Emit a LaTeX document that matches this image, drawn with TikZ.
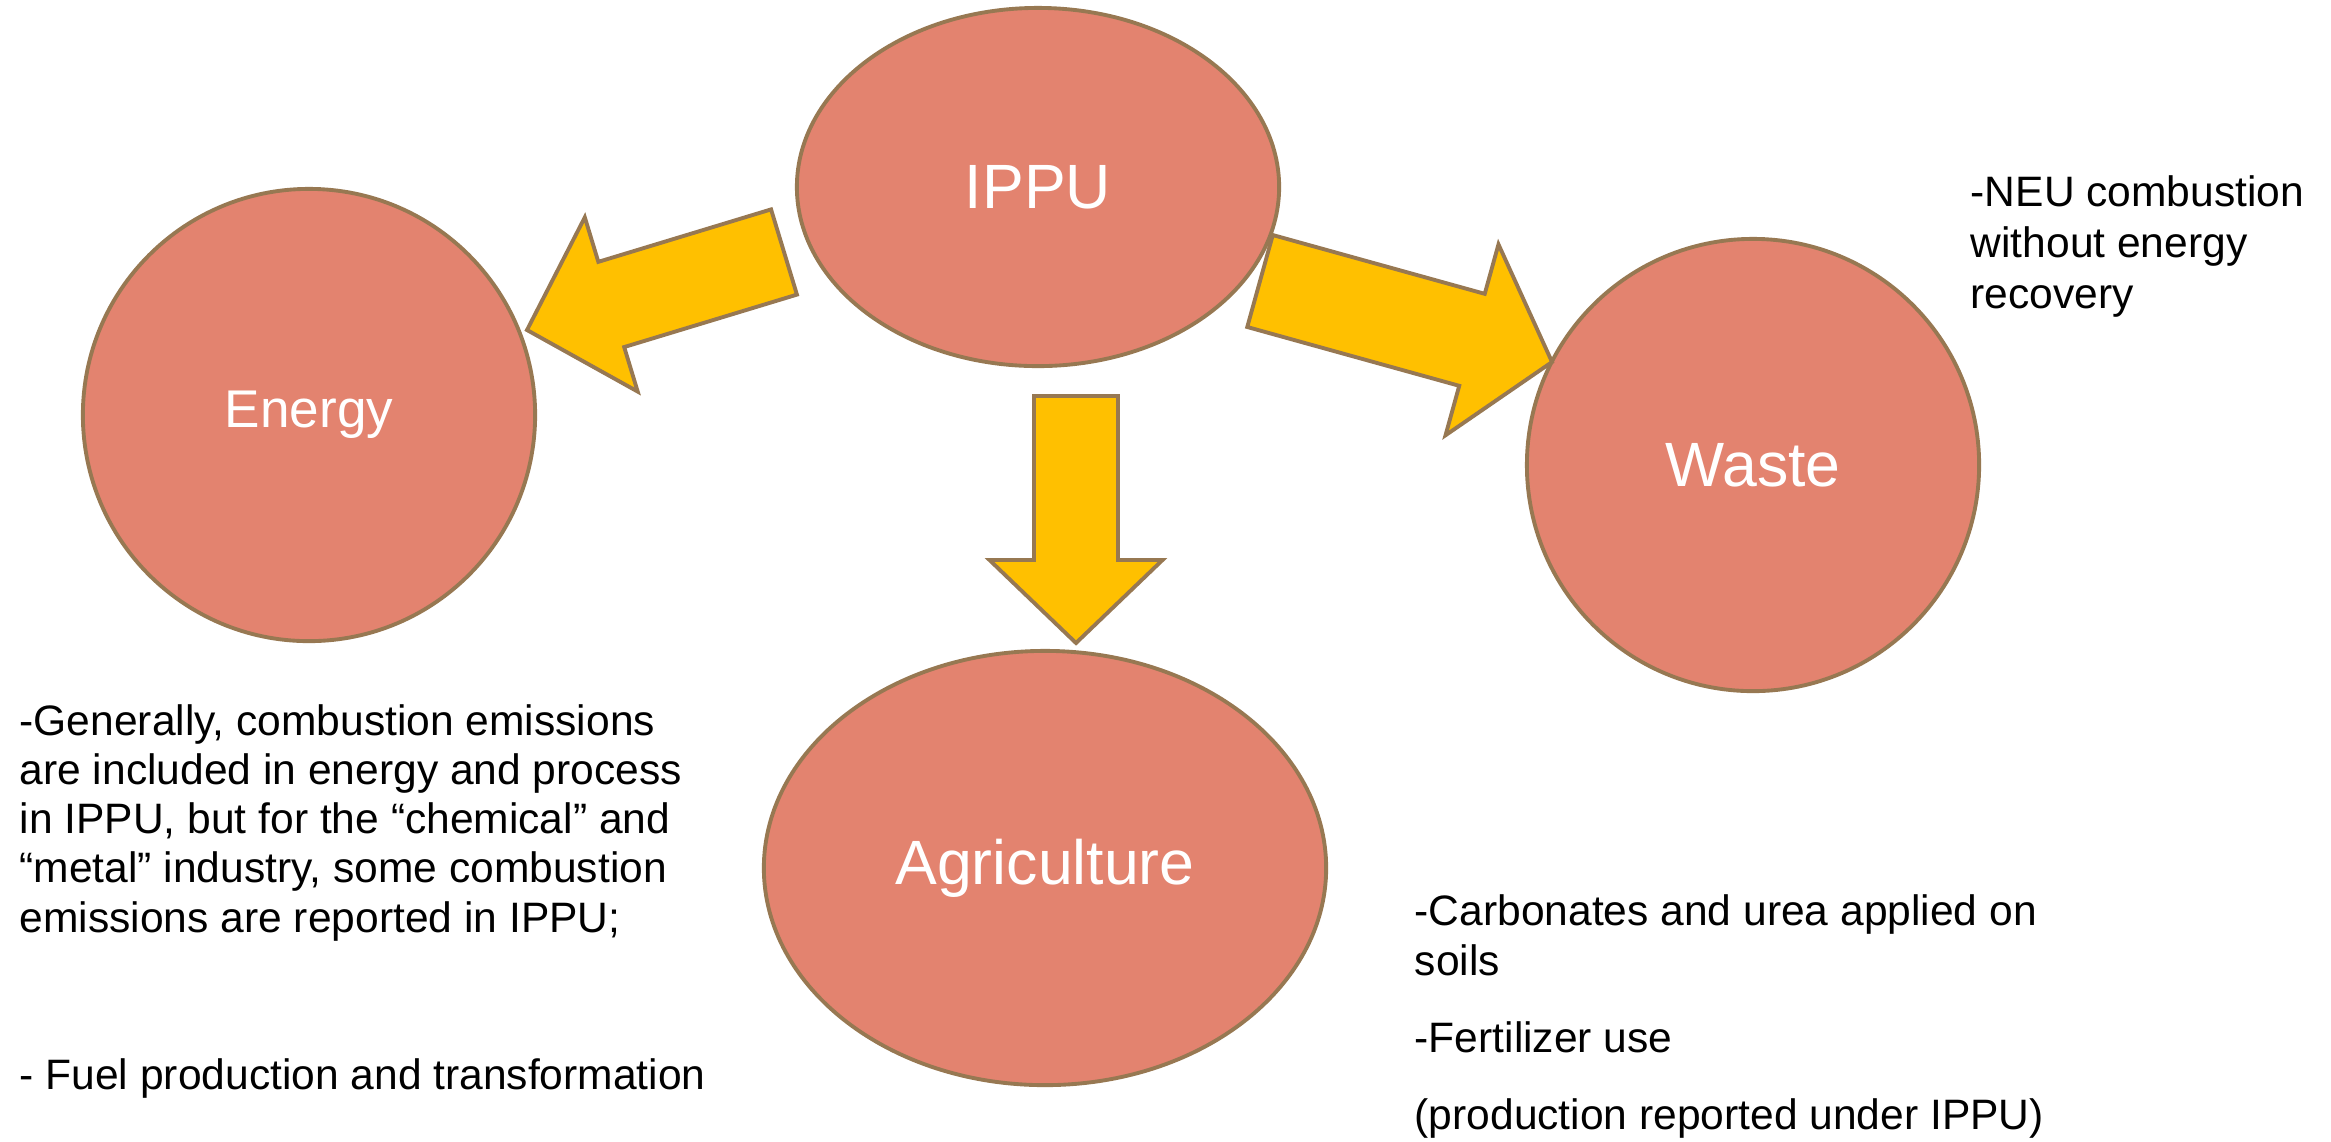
\documentclass[tikz,border=0pt]{standalone}
\usepackage{fontspec}
\setmainfont{Liberation Sans}
\usetikzlibrary{shapes.geometric, calc}

\definecolor{salmon}{HTML}{E3836F}
\definecolor{rim}{HTML}{977852}
\definecolor{gold}{HTML}{FFC000}

\begin{document}
\begin{tikzpicture}[
  x=0.01cm, y=-0.01cm,
  sector/.style={draw=rim, fill=salmon, line width=1.1pt, text=white, inner sep=0pt, font=\fontsize{17.8}{20}\selectfont},
  round/.style={sector, circle, minimum size=4.52cm},
  oval/.style={sector, ellipse},
  barr/.style={draw=rim, fill=gold, line width=1.1pt, line join=miter},
  note/.style={align=left, anchor=base west, inner sep=0pt, font=\fontsize{12.1}{14}\selectfont}
]
\useasboundingbox (0,0) rectangle (2331,1141);
\node[oval, minimum width=4.82cm, minimum height=3.58cm] (ippu) at (1038,187) {IPPU};
\node[round, font=\fontsize{15.1}{18}\selectfont] (energy) at (309,415) {Energy};
\node[round] (waste) at (1753,465) {Waste};
\node[oval, minimum width=5.62cm, minimum height=4.34cm] (agri) at (1045,868) {Agriculture};
\coordinate (eTail) at (784,252);
\coordinate (eTip) at (527,330);
\coordinate (wTail) at (1260,281);
\coordinate (wTip) at (1552,362);
\coordinate (aTail) at (1076,396);
\coordinate (aTip) at (1076,643);
\foreach \a/\b/\s/\w/\h in {eTail/eTip/0.445/0.91/0.88, wTail/wTip/0.477/0.99/0.83, aTail/aTip/0.42/0.865/0.83} {
  \coordinate (neck) at ($(\b)!\h cm!(\a)$);
  \draw[barr] ($(\a)!\s cm!90:(\b)$) -- ($(neck)!\s cm!90:(\b)$) -- ($(neck)!\w cm!90:(\b)$) -- (\b)
    -- ($(neck)!\w cm!-90:(\b)$) -- ($(neck)!\s cm!-90:(\b)$) -- ($(\a)!\s cm!-90:(\b)$) -- cycle;
}
% base anchor of a multi-line note is its last line
\node[note, font=\fontsize{12.1}{14.4}\selectfont] (wastenote) at (1970,308) {-NEU combustion\\without energy\\recovery};
\node[note] (energynote) at (19,932) {-Generally, combustion emissions\\are included in energy and process\\in IPPU, but for the “chemical” and\\“metal” industry, some combustion\\emissions are reported in IPPU;};
\node[note] (fuelnote) at (19,1089) {- Fuel production and transformation};
\node[note, font=\fontsize{12.1}{14.3}\selectfont] (agrinote) at (1414,1129) {-Carbonates and urea applied on\\soils\\[7.5pt]-Fertilizer use\\[7.5pt](production reported under IPPU)};
\end{tikzpicture}
\end{document}
